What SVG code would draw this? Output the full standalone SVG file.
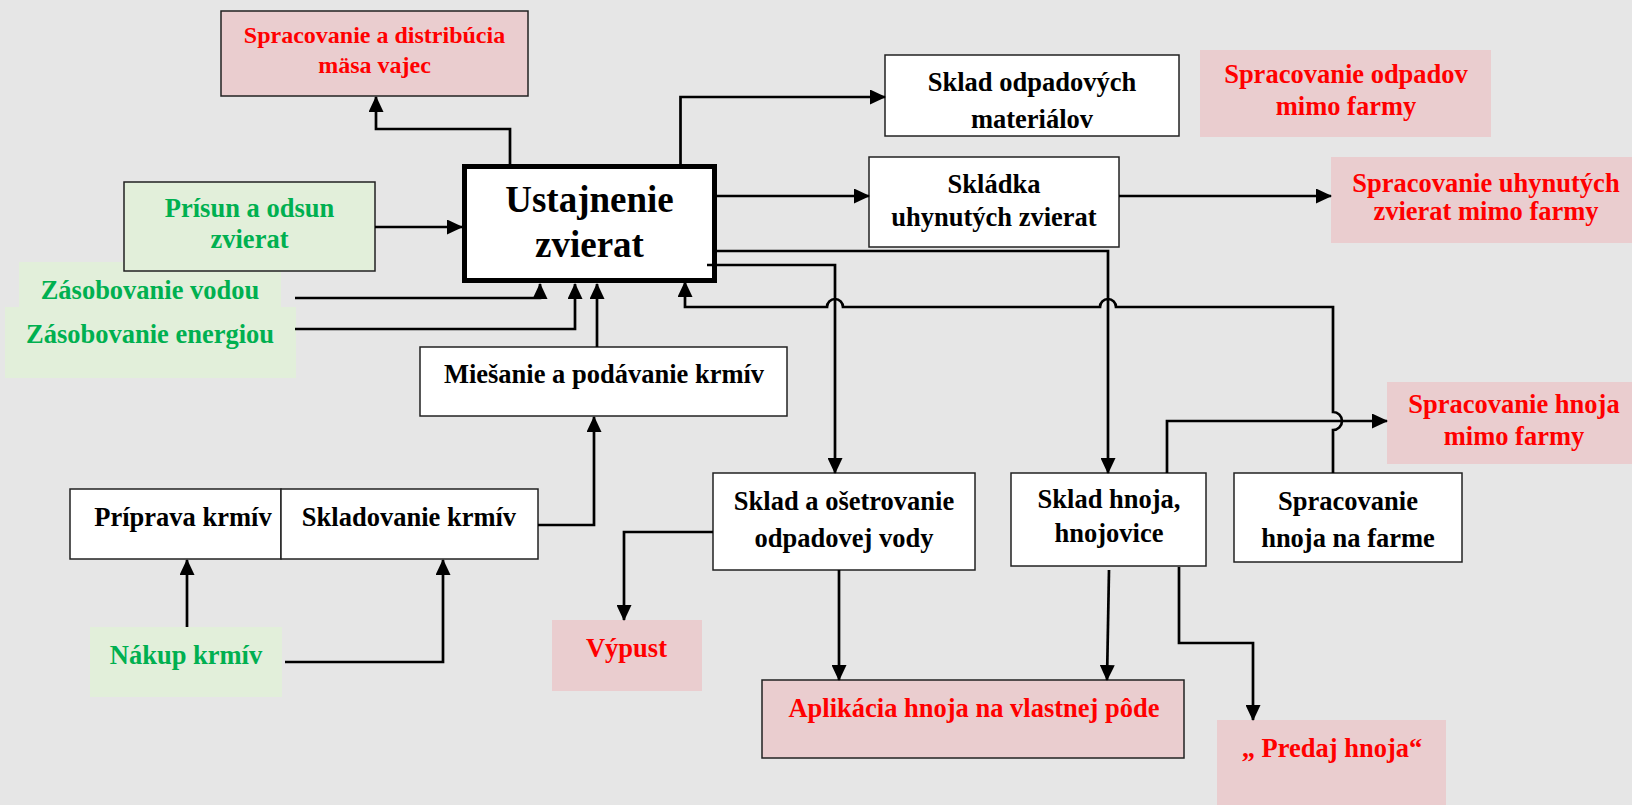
<svg xmlns="http://www.w3.org/2000/svg" width="1632" height="805" viewBox="0 0 1632 805">
<style>
.bx{fill:#fff;stroke:#222;stroke-width:1.5}
.pk{fill:#EACDCF}
.pkb{fill:#EACDCF;stroke:#222;stroke-width:1.5}
.gr{fill:#E2EFDA}
.grb{fill:#E2EFDA;stroke:#222;stroke-width:1.5}
text{font-family:"Liberation Serif","Times New Roman",serif;font-weight:bold;font-size:26.5px;text-anchor:middle}
.k{fill:#000}
.r{fill:#FF0000}
.g{fill:#00B050}
.c path{fill:none;stroke:#000;stroke-width:2.7}
.c path.a{marker-end:url(#ah)}
</style>
<defs>
<marker id="ah" viewBox="0 0 16 15" refX="15" refY="7.5" markerWidth="16" markerHeight="15" markerUnits="userSpaceOnUse" orient="auto">
<path d="M0,0 L16,7.5 L0,15 z" fill="#000"/>
</marker>
</defs>
<rect x="0" y="0" width="1632" height="805" fill="#E6E6E6"/>

<g id="n_masa"><rect class="pkb" x="221" y="11" width="307" height="85"/>
<text class="r" x="374.5" y="43" style="font-size:24px">Spracovanie a distribúcia</text>
<text class="r" x="374.5" y="73" style="font-size:24px">mäsa vajec</text></g>

<g id="n_voda"><rect class="gr" x="19" y="262" width="262" height="45"/>
<text class="g" x="150" y="299">Zásobovanie vodou</text></g>
<g id="n_energia"><rect class="gr" x="5" y="307" width="291" height="71"/>
<text class="g" x="150" y="343">Zásobovanie energiou</text></g>

<g id="n_prisun"><rect class="grb" x="124" y="182" width="251" height="89"/>
<text class="g" x="249.5" y="217">Prísun a odsun</text>
<text class="g" x="249.5" y="248">zvierat</text></g>

<g id="n_ustajnenie"><rect x="464.5" y="166.5" width="250" height="114" fill="#fff" stroke="#000" stroke-width="5"/>
<text class="k" x="589.5" y="212" style="font-size:37px">Ustajnenie</text>
<text class="k" x="589.5" y="257" style="font-size:37px">zvierat</text></g>

<g id="n_miesanie"><rect class="bx" x="420" y="347" width="367" height="69"/>
<text class="k" x="604" y="383">Miešanie a podávanie krmív</text></g>

<g id="n_priprava"><rect class="bx" x="70" y="489" width="211" height="70"/>
<text class="k" x="183" y="526">Príprava krmív</text></g>
<g id="n_skladovanie"><rect class="bx" x="281" y="489" width="257" height="70"/>
<text class="k" x="409" y="526">Skladovanie krmív</text></g>

<g id="n_nakup"><rect class="gr" x="90" y="627" width="192" height="70"/>
<text class="g" x="186" y="664">Nákup krmív</text></g>

<g id="n_odpad"><rect class="bx" x="885" y="55" width="294" height="81"/>
<text class="k" x="1032" y="91">Sklad odpadových</text>
<text class="k" x="1032" y="128">materiálov</text></g>

<g id="n_odpad_mimo"><rect class="pk" x="1200" y="50" width="291" height="87"/>
<text class="r" x="1346" y="83">Spracovanie odpadov</text>
<text class="r" x="1346" y="115">mimo farmy</text></g>

<g id="n_skladka"><rect class="bx" x="869" y="157" width="250" height="90"/>
<text class="k" x="994" y="193">Skládka</text>
<text class="k" x="994" y="226">uhynutých zvierat</text></g>

<g id="n_uhyn_mimo"><rect class="pk" x="1331" y="157" width="301" height="86"/>
<text class="r" x="1486" y="192">Spracovanie uhynutých</text>
<text class="r" x="1486" y="220">zvierat mimo farmy</text></g>

<g id="n_voda_sklad"><rect class="bx" x="713" y="473" width="262" height="97"/>
<text class="k" x="844" y="510">Sklad a ošetrovanie</text>
<text class="k" x="844" y="547">odpadovej vody</text></g>

<g id="n_hnoj"><rect class="bx" x="1011" y="473" width="195" height="93"/>
<text class="k" x="1109" y="508">Sklad hnoja,</text>
<text class="k" x="1109" y="542">hnojovice</text></g>

<g id="n_spr_farma"><rect class="bx" x="1234" y="473" width="228" height="89"/>
<text class="k" x="1348" y="510">Spracovanie</text>
<text class="k" x="1348" y="547">hnoja na farme</text></g>

<g id="n_hnoj_mimo"><rect class="pk" x="1387" y="382" width="245" height="82"/>
<text class="r" x="1514" y="413">Spracovanie hnoja</text>
<text class="r" x="1514" y="445">mimo farmy</text></g>

<g id="n_vypust"><rect class="pk" x="552" y="620" width="150" height="71"/>
<text class="r" x="626.5" y="657">Výpust</text></g>

<g id="n_aplikacia"><rect class="pkb" x="762" y="680" width="422" height="78"/>
<text class="r" x="974" y="717">Aplikácia hnoja na vlastnej pôde</text></g>

<g id="n_predaj"><rect class="pk" x="1217" y="720" width="229" height="90"/>
<text class="r" x="1332" y="757">„ Predaj hnoja“</text></g>

<g id="connectors" class="c">
<path class="a" d="M510,166 V129 H376 V97"/>
<path class="a" d="M375,227 H462"/>
<path class="a" d="M295,298 H540 V284"/>
<path class="a" d="M295,329 H575 V284"/>
<path class="a" d="M597,347 V284"/>
<path class="a" d="M680.5,166 V97 H885"/>
<path class="a" d="M717,196 H869"/>
<path class="a" d="M1119,196 H1331"/>
<path class="a" d="M717,251 H1108 V473"/>
<path class="a" d="M707,265 H835 V473"/>
<path class="a" d="M1333,473 V430 A9,9 0 0 0 1333,412 V307 H1116 A8,8 0 0 0 1100,307 H843 A8,8 0 0 0 827,307 H685 V282"/>
<path class="a" d="M1167,473 V421 H1387"/>
<path class="a" d="M713,532 H624 V620"/>
<path class="a" d="M839,570 V680"/>
<path class="a" d="M1109,570 L1107,680"/>
<path class="a" d="M1179,567 V643 H1253 V720"/>
<path class="a" d="M538,525 H594 V417"/>
<path class="a" d="M187,627 V560"/>
<path class="a" d="M285,662 H443 V560"/>
</g>
</svg>
